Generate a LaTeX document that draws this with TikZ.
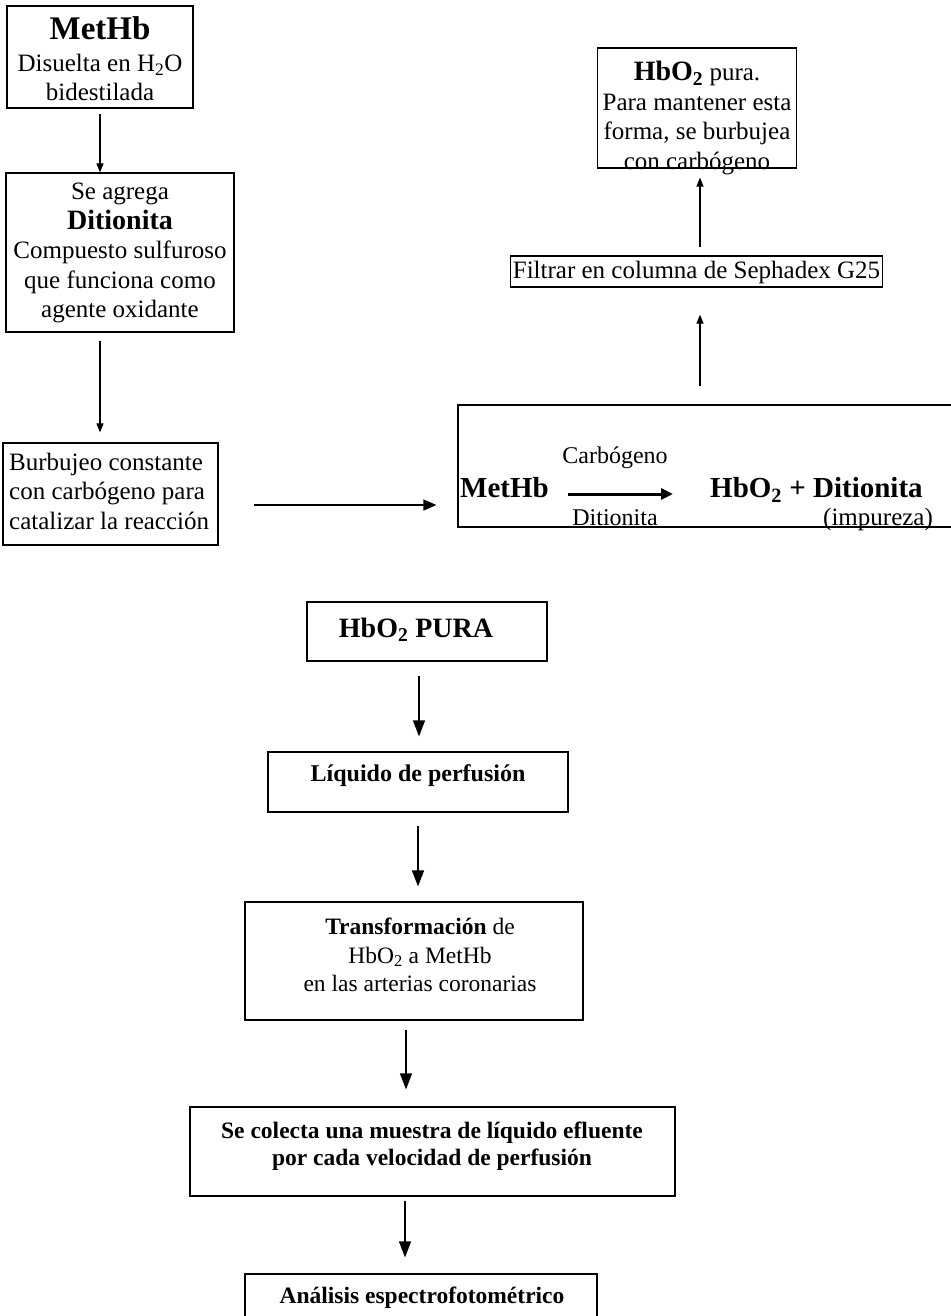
\documentclass[tikz,border=0pt]{standalone}
\usepackage{fontspec}
\setmainfont{Liberation Serif}
\usetikzlibrary{arrows.meta}
\newcommand{\nrm}{\fontsize{25}{29.5}\selectfont}
\newcommand{\sz}[1]{\fontsize{#1}{#1}\selectfont}
\begin{document}
\begin{tikzpicture}[x=1pt,y=-1pt,
  box/.style={draw, line width=1.2pt, inner sep=0pt},
  txt/.style={inner sep=0pt, align=center, font=\nrm},
  arrS/.style={line width=1.1pt, -{Triangle[length=9pt,width=7pt]}},
  arrM/.style={line width=1.2pt, -{Triangle[length=13pt,width=11pt]}},
  arrL/.style={line width=1.3pt, -{Triangle[length=16pt,width=12pt]}},
  arrT/.style={line width=3pt, -{Triangle[length=12pt,width=11pt]}}]
\useasboundingbox (0,0) rectangle (950,1316);
% ---------- top left column ----------
\node[box, minimum width=186pt, minimum height=102pt] (b1) at (100,57) {};
\node[txt] (t1) at (100,59) {{\sz{33}\bfseries MetHb}\\[2pt] Disuelta en H\textsubscript{2}O\\ bidestilada};
\node[box, minimum width=228pt, minimum height=159pt] (b2) at (120,252.5) {};
\node[txt] (t2) at (120,253) {Se agrega\\ {\sz{28}\bfseries Ditionita}\\ Compuesto sulfuroso\\ que funciona como\\ agente oxidante};
\node[box, minimum width=215pt, minimum height=102pt] (b3) at (110.5,494) {};
\node[txt, align=left, anchor=west] (t3) at (9,491) {Burbujeo constante\\ con carbógeno para\\ catalizar la reacción};
% ---------- reaction box ----------
\node[box, minimum width=494pt, minimum height=122pt] (rx) at (705,466) {};
\node[inner sep=0pt, anchor=base west, font=\sz{29}\bfseries] (rm) at (460,497.5) {MetHb};
\node[inner sep=0pt, anchor=base, font=\sz{24}] (rc) at (615,463) {Carbógeno};
\node[inner sep=0pt, anchor=base, font=\sz{24}] (rd) at (615,525) {Ditionita};
\node[inner sep=0pt, anchor=base west, font=\sz{29}\bfseries] (rp) at (710,497.5) {HbO\textsubscript{2} + Ditionita};
\node[inner sep=0pt, anchor=base west, font=\sz{25}] (ri) at (823,525) {(impureza)};
\coordinate (ra1) at (568,494);
\coordinate (ra2) at (673,494);
\draw[arrT] (ra1) -- (ra2);
% ---------- top right column ----------
\node[box, minimum width=372pt, minimum height=31pt] (fl) at (696.5,271.5) {};
\node[txt] (tf) at (696.5,272) {Filtrar en columna de Sephadex G25};
\node[box, minimum width=199pt, minimum height=120pt] (pu) at (697,108) {};
\node[txt] (tp) at (697,118) {{\sz{28}\bfseries HbO\textsubscript{2}} pura.\\ Para mantener esta\\ forma, se burbujea\\ con carbógeno};
% ---------- top connectors ----------
\coordinate (cx) at (700,0);
\coordinate (hy) at (0,505);
\draw[arrS, shorten <=5pt] (b1.south) -- (b1.south |- b2.north);
\draw[arrS, shorten <=8pt, shorten >=10pt] (b2.south -| b1.south) -- (b1.south |- b3.north);
\draw[arrM, shorten <=35pt, shorten >=21pt] (b3.east |- hy) -- (rx.west |- hy);
\draw[arrS, shorten <=18pt, shorten >=27pt] (rx.north -| cx) -- (fl.south -| cx);
\draw[arrS, shorten <=8pt, shorten >=9pt] (fl.north -| cx) -- (pu.south -| cx);
% ---------- bottom column ----------
\node[box, minimum width=240pt, minimum height=59pt] (c1) at (427,631.5) {};
\node[inner sep=0pt, font=\sz{28}\bfseries] (u1) at (416,630) {HbO\textsubscript{2} PURA};
\node[box, minimum width=300pt, minimum height=60pt] (c2) at (418,782) {};
\node[inner sep=0pt, font=\sz{24}\bfseries] (u2) at (418,776) {Líquido de perfusión};
\node[box, minimum width=338pt, minimum height=118pt] (c3) at (414,961) {};
\node[txt, font=\fontsize{23.5}{28.5}\selectfont] (u3) at (420,955) {{\sz{23.5}\bfseries Transformación} de\\ HbO\textsubscript{2} a MetHb\\ en las arterias coronarias};
\node[box, minimum width=485pt, minimum height=89pt] (c4) at (432.5,1151.5) {};
\node[txt, font=\fontsize{23.5}{27.5}\selectfont\bfseries] (u4) at (432,1146) {Se colecta una muestra de líquido efluente\\ por cada velocidad de perfusión};
\node[box, minimum width=352pt, minimum height=60pt] (c5) at (421,1304) {};
\node[inner sep=0pt, font=\sz{23.5}\bfseries] (u5) at (422,1298) {Análisis espectrofotométrico};
% ---------- bottom connectors ----------
\coordinate (k1) at (419,0);
\coordinate (k2) at (418,0);
\coordinate (k3) at (406,0);
\coordinate (k4) at (405,0);
\draw[arrL, shorten <=14pt, shorten >=15pt] (c1.south -| k1) -- (c2.north -| k1);
\draw[arrL, shorten <=13pt, shorten >=15pt] (c2.south -| k2) -- (c3.north -| k2);
\draw[arrL, shorten <=9pt, shorten >=17pt] (c3.south -| k3) -- (c4.north -| k3);
\draw[arrL, shorten <=4pt, shorten >=16pt] (c4.south -| k4) -- (c5.north -| k4);
\end{tikzpicture}
\end{document}
